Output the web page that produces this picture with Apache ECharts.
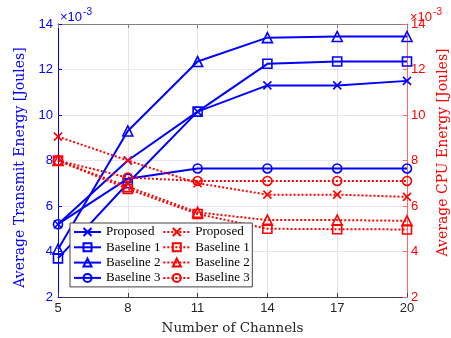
<!DOCTYPE html>
<html>
<head>
<meta charset="utf-8">
<script src="https://cdn.jsdelivr.net/npm/echarts@6/dist/echarts.min.js"></script>
<style>html,body{margin:0;padding:0;background:#fff}#c{width:451px;height:338px}</style>
</head>
<body>
<div id="c"></div>
<script>
// ---- data (values in units of 1e-3 Joules) ----
const channels = [5, 8, 11, 14, 17, 20];
const xTicks = [5, 8, 11, 14, 17, 20];
const yTicks = [2, 4, 6, 8, 10, 12, 14];
const legendNames = ['Proposed', 'Baseline 1', 'Baseline 2', 'Baseline 3'];

const txProposed  = [5.2, 8.0, 10.15, 11.3, 11.3, 11.5];
const txBaseline1 = [3.7, 7.0, 10.15, 12.25, 12.35, 12.35];
const txBaseline2 = [4.1, 9.3, 12.35, 13.4, 13.45, 13.45];
const txBaseline3 = [5.2, 7.2, 7.65, 7.65, 7.65, 7.65];

const cpuProposed  = [9.05, 8.0, 7.0, 6.5, 6.5, 6.4];
const cpuBaseline1 = [8.0, 6.75, 5.65, 5.0, 4.98, 4.97];
const cpuBaseline2 = [8.0, 6.85, 5.72, 5.38, 5.38, 5.35];
const cpuBaseline3 = [8.0, 7.25, 7.1, 7.1, 7.1, 7.1];

// ---- styling ----
const BLUE = '#0000ff', RED = '#ff0000';
const SANS = 'Liberation Sans', SERIF = 'Liberation Serif', TSERIF = 'DejaVu Serif';
const XMARK = 'path://M0,0L10,10M10,0L0,10';
const markers = [XMARK, 'rect', 'triangle', 'circle'];
const markerSizes = [8, 9, 10, 9];

const txData = [txProposed, txBaseline1, txBaseline2, txBaseline3];
const cpuData = [cpuProposed, cpuBaseline1, cpuBaseline2, cpuBaseline3];

function pairs(vals) { return channels.map((c, i) => [c, vals[i]]); }

const series = [];
txData.forEach((vals, i) => {
  series.push({
    name: legendNames[i], type: 'line', yAxisIndex: 0, data: pairs(vals),
    symbol: markers[i], symbolSize: markerSizes[i],
    color: BLUE,
    lineStyle: { color: BLUE, width: 2 },
    itemStyle: { color: 'transparent', borderColor: BLUE, borderWidth: 1.6 },
    emphasis: { disabled: true }, z: 2
  });
});
cpuData.forEach((vals, i) => {
  series.push({
    name: legendNames[i] + ' ', type: 'line', yAxisIndex: 1, data: pairs(vals),
    symbol: markers[i], symbolSize: markerSizes[i],
    color: RED,
    lineStyle: { color: RED, width: 2, type: [2, 2] },
    itemStyle: { color: 'transparent', borderColor: RED, borderWidth: 1.6 },
    emphasis: { disabled: true }, z: 3
  });
});

const yAxisCommon = {
  type: 'value', min: yTicks[0], max: yTicks[yTicks.length - 1], interval: 2,
  nameLocation: 'middle', nameRotate: 90
};

function mult(color) {
  return {
    a: { fontFamily: SANS, fontSize: 13, fontWeight: 'normal', color: color, lineHeight: 17, verticalAlign: 'bottom' },
    b: { fontFamily: SANS, fontSize: 10, fontWeight: 'normal', color: color, lineHeight: 17, verticalAlign: 'top', padding: [0, 0, 0, 1] }
  };
}

const option = {
  animation: false,
  backgroundColor: '#ffffff',
  grid: { left: 58, right: 44, top: 24, bottom: 41, containLabel: false, outerBoundsMode: 'none' },
  title: [
    { text: '{a|×10}{b|-3}', left: 60, top: 7, padding: 0,
      textStyle: { fontWeight: 'normal', rich: mult(BLUE) } },
    { text: '{a|×10}{b|-3}', left: 410, top: 7, padding: 0,
      textStyle: { fontWeight: 'normal', rich: mult(RED) } }
  ],
  xAxis: [
    { type: 'value', min: xTicks[0], max: xTicks[xTicks.length - 1], interval: 3, position: 'bottom',
      axisLine: { lineStyle: { color: '#404040', width: 1 } },
      axisTick: { inside: true, length: 4, lineStyle: { color: '#404040' } },
      axisLabel: { margin: 5, fontSize: 13, fontFamily: SANS, color: '#262626' },
      splitLine: { show: true, lineStyle: { color: '#e4e4e4', width: 1 } },
      name: 'Number of Channels', nameLocation: 'middle', nameGap: 24,
      nameTextStyle: { fontFamily: TSERIF, fontSize: 13.5, color: '#262626' } },
    { type: 'value', min: xTicks[0], max: xTicks[xTicks.length - 1], interval: 3, position: 'top',
      axisLine: { lineStyle: { color: '#808080', width: 1 } },
      axisTick: { inside: true, length: 4, lineStyle: { color: '#808080' } },
      axisLabel: { show: false }, splitLine: { show: false } }
  ],
  yAxis: [
    Object.assign({}, yAxisCommon, {
      position: 'left',
      name: 'Average Transmit Energy [Joules]', nameGap: 21,
      nameTextStyle: { fontFamily: TSERIF, fontSize: 14, color: BLUE, padding: [0, 14, 0, 0] },
      axisLine: { show: true, lineStyle: { color: BLUE, width: 1 } },
      axisTick: { show: true, inside: true, length: 4, lineStyle: { color: BLUE } },
      axisLabel: { margin: 5, fontSize: 13, fontFamily: SANS, color: BLUE },
      splitLine: { show: true, lineStyle: { color: '#e6e6fb', width: 1 } }
    }),
    Object.assign({}, yAxisCommon, {
      position: 'right',
      name: 'Average CPU Energy [Joules]', nameGap: 28,
      nameTextStyle: { fontFamily: TSERIF, fontSize: 14, color: RED, padding: [0, 0, 0, 16] },
      axisLine: { show: true, lineStyle: { color: '#ff6666', width: 1 } },
      axisTick: { show: true, inside: true, length: 4, lineStyle: { color: '#ff6666' } },
      axisLabel: { margin: 4, fontSize: 13, fontFamily: SANS, color: RED },
      splitLine: { show: false }
    })
  ],
  legend: {
    orient: 'vertical', left: 70, top: 223, height: 62,
    padding: [2, 2, 2, 3], itemGap: 1.3, itemWidth: 27, itemHeight: 10,
    backgroundColor: '#ffffff', borderColor: '#404040', borderWidth: 1,
    selectedMode: false,
    formatter: n => n.trim(),
    textStyle: { fontFamily: SERIF, fontSize: 13, color: '#000', lineHeight: 14, width: 55 },
    data: series.map(s => s.name)
  },
  series: series
};

const chart = echarts.init(document.getElementById('c'), null, { renderer: 'canvas' });
chart.setOption(option);
</script>
</body>
</html>
